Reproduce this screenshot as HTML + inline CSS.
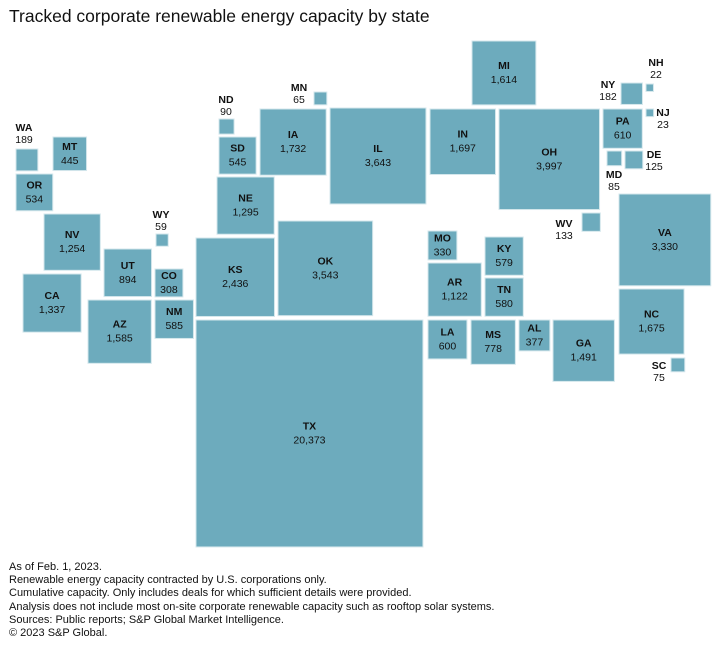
<!DOCTYPE html>
<html><head><meta charset="utf-8">
<style>
body{margin:0;background:#fff;font-family:"Liberation Sans",sans-serif;}
#wrap{position:relative;width:720px;height:650px;overflow:hidden;}
h1{position:absolute;left:9px;top:6px;margin:0;font-size:17.5px;font-weight:normal;color:#111;}
#notes{position:absolute;left:9px;top:561px;font-size:11px;line-height:13.2px;color:#111;}
svg{position:absolute;left:0;top:0;}
</style></head>
<body>
<div id="wrap">
<h1>Tracked corporate renewable energy capacity by state</h1>
<svg id="map" width="720" height="650"></svg>
<div id="notes">
As of Feb. 1, 2023.<br>
Renewable energy capacity contracted by U.S. corporations only.<br>
Cumulative capacity. Only includes deals for which sufficient details were provided.<br>
Analysis does not include most on-site corporate renewable capacity such as rooftop solar systems.<br>
Sources: Public reports; S&amp;P Global Market Intelligence.<br>
© 2023 S&amp;P Global.
</div>
</div>
<script>
const states=["WA","MT","OR","NV","CA","UT","AZ","WY","CO","NM","ND","SD","MN","IA","NE","KS","OK","IL","TX","MI","IN","OH","NY","NH","PA","NJ","MD","DE","WV","VA","NC","SC","MO","KY","AR","TN","LA","MS","AL","GA"];
const values=[189,445,534,1254,1337,894,1585,59,308,585,90,545,65,1732,1295,2436,3543,3643,20373,1614,1697,3997,182,22,610,23,85,125,133,3330,1675,75,330,579,1122,580,600,778,377,1491];
// grid anchor (top-left) of each square, layout only
const lx=[16,53,16,44,23,104,88,156,155,155,219,219,314,260,217,196,278,330,196,472,430,499,621,646,603,646,607,625,582,619,619,671,428,485,428,485,428,471,519,553];
const ly=[149,137,174,214,274,249,300,234,269,300,119,137,92,109,177,238,221,108,320,41,109,109,83,84,109,109,151,151,213,194,289,358,231,237,263,278,320,320,320,320];
const outside={WA:[24,127],ND:[226,99],MN:[299,87],WY:[161,214],NY:[608,84],NH:[656,62],NJ:[663,112],DE:[654,154],MD:[614,174],WV:[564,223],SC:[659,365]};
const K=1.59;
const side=v=>K*Math.sqrt(v);
const fmt=v=>v.toLocaleString("en-US");
const svg=document.getElementById("map");
const NS="http://www.w3.org/2000/svg";
function txt(x,y,s,bold){
  const t=document.createElementNS(NS,"text");
  t.setAttribute("x",x);t.setAttribute("y",y);
  t.setAttribute("text-anchor","middle");
  t.setAttribute("font-size","10.5");
  t.setAttribute("font-family","Liberation Sans, sans-serif");
  if(bold)t.setAttribute("font-weight","bold");
  t.setAttribute("fill","#111");
  t.textContent=s;
  svg.appendChild(t);
  return t;
}
states.forEach((st,i)=>{
  const s=side(values[i]);
  const r=document.createElementNS(NS,"rect");
  r.setAttribute("x",lx[i]);r.setAttribute("y",ly[i]);
  r.setAttribute("width",s);r.setAttribute("height",s);
  r.setAttribute("fill","#6dabbd");
  r.setAttribute("stroke","#d4e7ec");r.setAttribute("stroke-width","1");
  
  
  svg.appendChild(r);
  let cx,cy1,cy2;
  if(outside[st]){cx=outside[st][0];cy1=outside[st][1]+4;cy2=outside[st][1]+16;}
  else{cx=lx[i]+s/2;const cy=ly[i]+s/2;cy1=cy-4;cy2=cy+10;}
  const a=txt(cx,cy1,st,true);
  
  
  const b=txt(cx,cy2,fmt(values[i]),false);
  
  
});
</script>
</body></html>
